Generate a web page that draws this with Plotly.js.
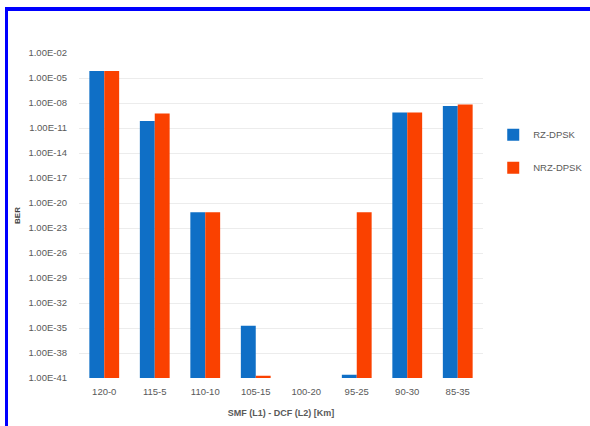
<!DOCTYPE html>
<html>
<head>
<meta charset="utf-8">
<script src="https://cdn.plot.ly/plotly-3.0.1.min.js"></script>
<style>
html,body{margin:0;padding:0;background:#fff;}
#wrap{position:relative;width:590px;height:426px;overflow:hidden;}
#chart{position:absolute;left:0;top:0;width:590px;height:426px;}
.bt{position:absolute;left:5px;top:7px;width:585px;height:4px;background:#0000ff;}
.bl{position:absolute;left:5px;top:7px;width:3px;height:419px;background:#0000ff;}
</style>
</head>
<body>
<div id="wrap">
<div id="chart"></div>
<div class="bt"></div>
<div class="bl"></div>
</div>
<script>
// Categories: SMF (L1) - DCF (L2) lengths in km
const categories = ['120-0', '115-5', '110-10', '105-15', '100-20', '95-25', '90-30', '85-35'];
// BER values (log scale)
const rzDpsk  = [7.0e-5, 7.0e-11, 7.5e-22, 1.8e-35, null, 2.5e-41, 7.0e-10, 4.3e-9];
const nrzDpsk = [7.0e-5, 5.4e-10, 7.5e-22, 1.8e-41, null, 7.5e-22, 7.0e-10, 6.8e-9];
// Y tick values and labels
const yTickVals = [1e-41, 1e-38, 1e-35, 1e-32, 1e-29, 1e-26, 1e-23, 1e-20, 1e-17, 1e-14, 1e-11, 1e-8, 1e-5, 1e-2];
const yTickText = ['1.00E-41', '1.00E-38', '1.00E-35', '1.00E-32', '1.00E-29', '1.00E-26', '1.00E-23', '1.00E-20', '1.00E-17', '1.00E-14', '1.00E-11', '1.00E-08', '1.00E-05', '1.00E-02'];

const font = 'Liberation Sans, Arial, sans-serif';
const traces = [
  {type: 'bar', name: 'RZ-DPSK', x: categories, y: rzDpsk, marker: {color: '#0f6fc6'}, legendgroup: 'a'},
  {type: 'bar', name: 'NRZ-DPSK', x: categories, y: nrzDpsk, marker: {color: '#fa4100'}, legendgroup: 'b'}
];
const layout = {
  width: 590, height: 426,
  margin: {l: 79, r: 107, t: 53, b: 48, autoexpand: false},
  paper_bgcolor: '#ffffff', plot_bgcolor: '#ffffff',
  barmode: 'group', bargap: 0.41, bargroupgap: 0,
  font: {family: font, size: 9.5, color: '#595959'},
  xaxis: {
    type: 'category', showgrid: false, zeroline: false,
    showline: false, ticks: '', ticklabelstandoff: 6,
    tickfont: {family: font, size: 9.5, color: '#595959'},
    title: {text: 'SMF (L1) - DCF (L2) [Km]', font: {family: font, size: 9, color: '#595959', weight: 'bold'}, standoff: 14}
  },
  yaxis: {
    type: 'log', range: [-41, -2], tickmode: 'array', tickvals: yTickVals, ticktext: yTickText,
    showgrid: true, gridcolor: '#ececec', gridwidth: 1, zeroline: false, showline: false, ticks: '',
    ticklabelstandoff: 11,
    tickfont: {family: font, size: 9.5, color: '#595959'},
    title: {text: 'BER', font: {family: font, size: 8, color: '#404040', weight: 'bold'}, standoff: 6}
  },
  legend: {
    xref: 'container', yref: 'container',
    x: 0.836, xanchor: 'left', y: 0.645, yanchor: 'middle',
    font: {family: font, size: 9.5, color: '#595959'},
    tracegroupgap: 14, itemwidth: 30, bgcolor: 'rgba(0,0,0,0)'
  },
  showlegend: true
};
Plotly.newPlot('chart', traces, layout, {displayModeBar: false, staticPlot: true});
</script>
</body>
</html>
